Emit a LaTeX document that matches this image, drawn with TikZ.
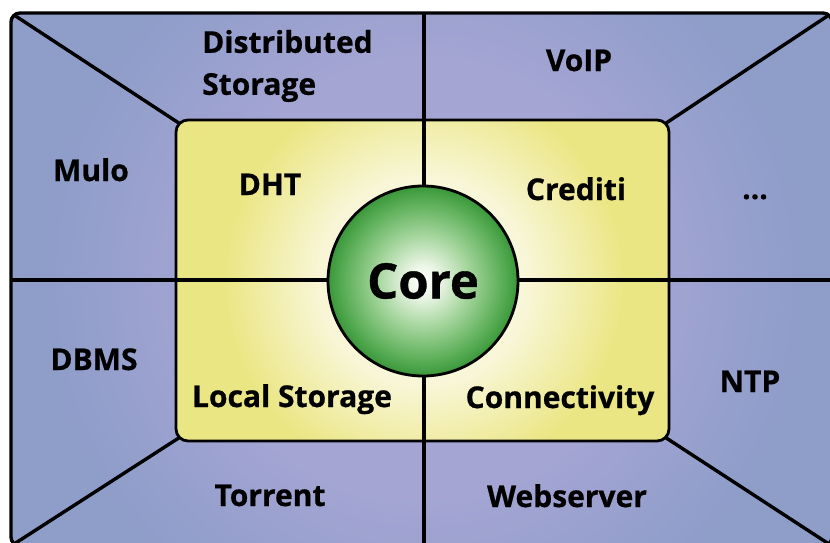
\documentclass[tikz,border=0pt]{standalone}
\usepackage{fontspec}
\setmainfont{Open Sans}[BoldFeatures={FakeBold=0.7}]

\definecolor{panelblue}{HTML}{8F9DC9}
\definecolor{panelglow}{HTML}{A4A5D3}
\definecolor{padyellow}{HTML}{EBE684}
\definecolor{padlight}{HTML}{F8F6D6}
\definecolor{corelight}{HTML}{EDF6E8}
\definecolor{corepale}{HTML}{A6D69E}
\definecolor{coremid}{HTML}{62B25E}
\definecolor{coredark}{HTML}{399839}

% soft glows for the three layers (25bp = half the shaded box)
\pgfdeclareradialshading{panelshade}{\pgfpoint{0bp}{0bp}}{color(0bp)=(panelglow); color(12bp)=(panelglow); color(21bp)=(panelblue); color(50bp)=(panelblue)}
\pgfdeclareradialshading{padshade}{\pgfpoint{0bp}{0bp}}{color(0bp)=(white); color(10.5bp)=(padlight); color(20bp)=(padyellow); color(50bp)=(padyellow)}
\pgfdeclareradialshading{coreshade}{\pgfpoint{0bp}{0bp}}{color(0bp)=(white); color(4bp)=(corelight); color(12bp)=(corepale); color(20bp)=(coremid); color(25bp)=(coredark); color(50bp)=(coredark)}

\begin{document}
\begin{tikzpicture}[x=1pt,y=-1pt,line join=round,
  rule/.style={line width=3.4pt},
  padrule/.style={line width=2.8pt},
  lbl/.style={font=\fontsize{30}{42}\selectfont\bfseries, inner sep=0pt, anchor=base},
  corenode/.style={circle, draw, line width=2.8pt, minimum size=190pt, inner sep=0pt,
    shading=coreshade, font=\fontsize{49}{55}\selectfont\bfseries}]
\useasboundingbox (0,0) rectangle (830,543);
\clip (0,0) rectangle (830,543);

% outer frame corners and inner pad corners
\coordinate (oNW) at (11,13);
\coordinate (oNE) at (832,13);
\coordinate (oSW) at (11,546);
\coordinate (oSE) at (832,546);
\coordinate (iNW) at (179.5,123.5);
\coordinate (iNE) at (665.5,123.5);
\coordinate (iSW) at (179.5,437.5);
\coordinate (iSE) at (665.5,437.5);
\coordinate (vTop) at (424,13);
\coordinate (vBot) at (424,546);
\coordinate (hL) at (11,280);
\coordinate (hR) at (832,280);

% blue panel with diagonals
\begin{scope}
  \clip[rounded corners=9pt] (oNW) rectangle (oSE);
  \shade[shading=panelshade] (-26,-170) rectangle (874,730);
  \draw[rule] (oNW) -- (iNW);
  \draw[rule] (oNE) -- (iNE);
  \draw[rule] (oSW) -- (iSW);
  \draw[rule] (oSE) -- (iSE);
\end{scope}

% yellow pad
\begin{scope}
  \clip[rounded corners=12pt] (176,120) rectangle (669,441);
  \shade[shading=padshade] (174,31) rectangle (674,531);
\end{scope}
\draw[padrule, rounded corners=12pt] (176,120) rectangle (669,441);

% dividers
\draw[rule] (vTop) -- (vBot);
\draw[rule] (hL) -- (hR);

% frame border
\draw[rule, rounded corners=9pt] (oNW) rectangle (oSE);

% core
\node[corenode] (core) at (423,281) {Core};

% labels
\node[font=\fontsize{30}{42}\selectfont\bfseries, inner sep=0pt, anchor=west, align=left] (dist) at (202,66) {Distributed\\Storage};
\node[lbl] (voip) at (579,71) {VoIP};
\node[lbl] (mulo) at (91,181) {Mulo};
\node[lbl] (dht) at (270,195) {DHT};
\node[lbl] (crediti) at (576,200) {Crediti};
\node[lbl] (more) at (755,199) {...};
\node[lbl] (dbms) at (94,370) {DBMS};
\node[lbl] (local) at (292,407) {Local Storage};
\node[lbl] (conn) at (560,408) {Connectivity};
\node[lbl] (ntp) at (750,392) {NTP};
\node[lbl] (torrent) at (270,506) {Torrent};
\node[lbl] (web) at (567,507) {Webserver};
\end{tikzpicture}
\end{document}
